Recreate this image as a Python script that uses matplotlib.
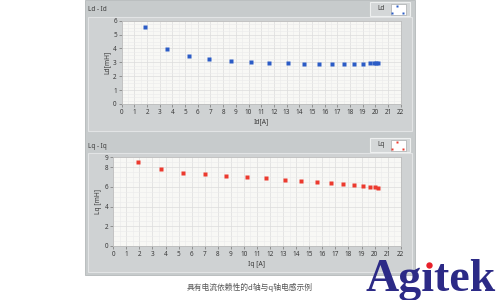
import matplotlib
matplotlib.use('Agg')
import matplotlib.pyplot as plt
from matplotlib.patches import Rectangle
from matplotlib.ticker import MultipleLocator, FixedLocator

# data
id_a = [1.81, 3.60, 5.31, 6.89, 8.62, 10.2, 11.62, 13.09, 14.35, 15.53,
        16.61, 17.5, 18.34, 19.03, 19.58, 19.87, 20.03, 20.18]
ld_mh = [5.57, 3.94, 3.46, 3.24, 3.07, 3.0, 2.95, 2.93, 2.9, 2.9,
         2.9, 2.9, 2.9, 2.9, 2.93, 2.93, 2.93, 2.93]
iq_a = [1.91, 3.65, 5.36, 7.04, 8.63, 10.26, 11.72, 13.14, 14.4, 15.57,
        16.69, 17.61, 18.43, 19.14, 19.68, 20.02, 20.25]
lq_mh = [8.56, 7.78, 7.37, 7.27, 7.14, 6.97, 6.87, 6.73, 6.63, 6.5,
         6.39, 6.27, 6.17, 6.12, 6.02, 5.96, 5.92]
x_ticks = list(range(0, 23))
ld_ticks = [0, 1, 2, 3, 4, 5, 6]
lq_ticks = [0, 2, 4, 6, 8, 9]
caption = '具有电流依赖性的d轴与q轴电感示例'

plt.rcParams['font.family'] = ['Noto Sans', 'Noto Sans CJK SC', 'DejaVu Sans']
W, H = 500, 300
fig = plt.figure(figsize=(5, 3), dpi=100)
fig.patch.set_facecolor('white')

# background layer in pixel coordinates
bg = fig.add_axes([0, 0, 1, 1])
bg.set_xlim(0, W)
bg.set_ylim(H, 0)
bg.axis('off')

panel = '#c7cbcc'
frame = '#cfd2d3'
txt = '#3a3a3a'
bg.add_patch(Rectangle((85, 0), 330, 275, fc=panel, ec='#b4b8b9', lw=0.6))
bg.add_patch(Rectangle((88, 17), 324, 114, fc=frame, ec='#e2e4e5', lw=0.8))
bg.add_patch(Rectangle((88, 153), 324, 119, fc=frame, ec='#e2e4e5', lw=0.8))
bg.text(88, 9.5, 'Ld - Id', fontsize=4.6, color=txt, va='center', ha='left')
bg.text(88, 146, 'Lq - Iq', fontsize=4.6, color=txt, va='center', ha='left')


def legend_box(y0, name, color):
    bg.add_patch(Rectangle((370, y0), 40, 14, fc='#d4d7d8', ec='#eef0f0', lw=0.8))
    bg.text(381, y0 + 7, name, fontsize=4.6, color=txt, va='center', ha='center')
    bg.add_patch(Rectangle((390.5, y0 + 2), 15.5, 10.5, fc='white', ec='#a9adae', lw=0.5))
    bg.plot([397.3, 392.3, 402.7], [y0 + 3.8, y0 + 10.6, y0 + 10.6], 's',
            ms=2.0, color=color, mec='none')


legend_box(2, 'Ld', '#2b5cc6')
legend_box(138, 'Lq', '#ec3a2e')

bg.text(250, 287.5, caption, fontsize=5.6, color='#555555', ha='center', va='center',
        family=['Noto Sans CJK SC', 'DejaVu Sans'])

# logo: navy word with a red dot on the i
logo_kw = dict(fontsize=33, fontweight='bold', family='Liberation Serif',
               ha='left', va='baseline')
bg.text(366, 291, 'Ag\u0131tek', color='#2c2a86', **logo_kw)
r = fig.canvas.get_renderer()
t1 = bg.text(366, 291, 'Ag', alpha=0, **logo_kw)
t2 = bg.text(366, 291, 'Ag\u0131', alpha=0, **logo_kw)
x1 = t1.get_window_extent(r).x1
x2 = t2.get_window_extent(r).x1
bg.plot([(x1 + x2) / 2 * W / fig.bbox.width], [265], 'o', ms=4.6,
        color='#e8202a', mec='none')


def make_axes(left, top, right, bottom):
    return fig.add_axes([left / W, 1 - bottom / H, (right - left) / W, (bottom - top) / H])


def style(ax, xs, ys, color, ymax, yticks, yminor, xlabel, ylabel):
    ax.set_facecolor('#f8f8f5')
    ax.plot(xs, ys, 's', ms=2.5, color=color, mec='none', zorder=3)
    ax.set_xlim(0, 22)
    ax.set_ylim(0, ymax)
    ax.xaxis.set_major_locator(FixedLocator(x_ticks))
    ax.yaxis.set_major_locator(FixedLocator(yticks))
    ax.xaxis.set_minor_locator(MultipleLocator(0.5))
    ax.yaxis.set_minor_locator(MultipleLocator(yminor))
    ax.grid(which='major', color='#dcdcdc', lw=0.5)
    ax.grid(which='minor', color='#ebebeb', lw=0.4)
    ax.set_axisbelow(True)
    for s in ax.spines.values():
        s.set_color('#bdbdbd')
        s.set_linewidth(0.6)
    ax.tick_params(which='major', length=2, width=0.5, color='#777777',
                   labelsize=4.6, labelcolor=txt, pad=1.5)
    ax.tick_params(which='minor', length=0)
    ax.set_xlabel(xlabel, fontsize=4.8, color=txt, labelpad=2)
    ax.set_ylabel(ylabel, fontsize=4.8, color=txt, labelpad=2)


ax1 = make_axes(121.7, 20.7, 400.7, 104)
style(ax1, id_a, ld_mh, '#2b5cc6', 6, ld_ticks, 0.25, 'Id[A]', 'Ld[mH]')
ax2 = make_axes(113.3, 157.3, 400.7, 246)
style(ax2, iq_a, lq_mh, '#ec3a2e', 9, lq_ticks, 0.5, 'Iq [A]', 'Lq [mH]')

fig.savefig('out.png', dpi=100, facecolor='white')
